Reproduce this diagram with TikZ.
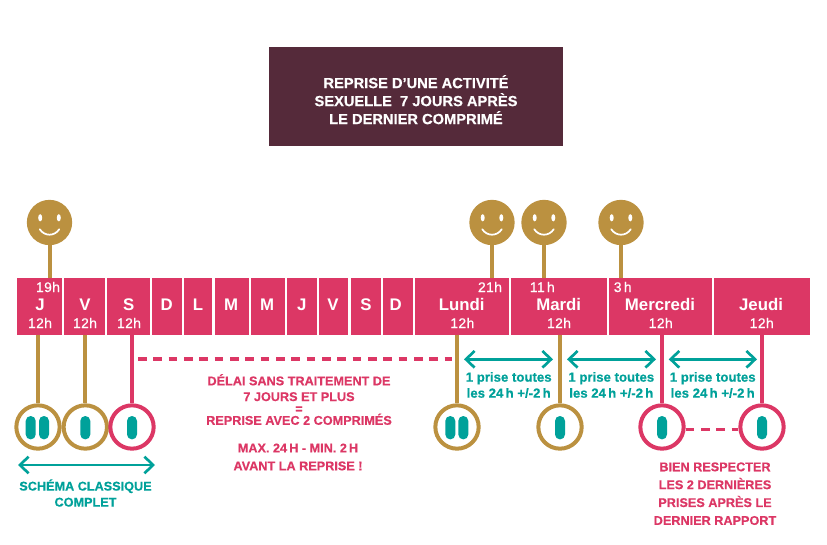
\documentclass[tikz,border=0pt]{standalone}
\usepackage{fontspec}
\setmainfont{Liberation Sans}
\usetikzlibrary{arrows.meta}
\definecolor{pinkc}{HTML}{DC3765}
\definecolor{gold}{HTML}{BB9140}
\definecolor{teal}{HTML}{00A19A}
\definecolor{plum}{HTML}{552A3A}
\tikzset{x=0.75pt,y=-0.75pt,
 wt/.style={text=white,font=\fontsize{12.6}{12}\selectfont\bfseries,inner sep=0,anchor=base},
 ht/.style={text=white,font=\fontsize{10.4}{10}\selectfont\addfontfeatures{FakeBold=0.6,LetterSpace=3},inner sep=0,anchor=base},
 goldl/.style={draw=gold,line width=3pt},
 pinkl/.style={draw=pinkc,line width=3pt},
 dashl/.style={draw=pinkc,line width=2.4pt,dash pattern=on 6.5pt off 5pt},
 tarrow/.style={draw=teal,line width=2pt,{Straight Barb[length=6.5pt,width=12.5pt,line width=2pt]}-{Straight Barb[length=6.5pt,width=12.5pt,line width=2pt]}},
 circ/.style={circle,minimum size=32.5pt,inner sep=0,fill=white,line width=3pt},
 ttxt/.style={text=teal,font=\fontsize{9.5}{12}\selectfont\bfseries\addfontfeatures{FakeBold=0.4},align=center,inner sep=0},
 tsm/.style={text=teal,font=\fontsize{9.9}{12}\selectfont\bfseries\addfontfeatures{FakeBold=0.4},align=center,inner sep=0},
 ptxt/.style={text=pinkc,font=\fontsize{9.5}{13.4}\selectfont\bfseries\addfontfeatures{FakeBold=0.4},align=center,inner sep=0},
}
\newcommand{\daybx}[3]{\fill[pinkc] (#2,277.7) rectangle (#3,334.7); \node[inner sep=0] (#1) at ({(#2+#3)/2},306) {};}
\newcommand{\smiley}[3]{%
 \node[circle,fill=gold,minimum size=34pt,inner sep=0] (#1) at (#2,#3) {};
 \fill[white] (#2-9.3,#3-4.7) ellipse (1.5pt and 2.7pt);
 \fill[white] (#2+9.3,#3-4.7) ellipse (1.5pt and 2.7pt);
 \draw[white,line width=1.3pt,line cap=round] (#2-9.7,#3+6.8) .. controls (#2-5,#3+14) and (#2+5,#3+14) .. (#2+9.7,#3+6.8);
}
\newcommand{\pillA}[2]{\fill[teal,rounded corners=3.7pt] (#1-5,#2-11.7) rectangle (#1+5,#2+11.7);}
\begin{document}
\begin{tikzpicture}
\useasboundingbox (0,0) rectangle (827,545);
\fill[white] (0,0) rectangle (827,545);
% title
\node[fill=plum,minimum width=220pt,minimum height=74.5pt,inner sep=0] (title) at (416,96.3) {};
\node[text=white,align=center,inner sep=0,font=\fontsize{11}{13.5}\selectfont\bfseries\addfontfeatures{FakeBold=0.4}] (titletext) at (416,99.7) {REPRISE D’UNE ACTIVITÉ\\SEXUELLE\ \ 7 JOURS APRÈS\\LE DERNIER COMPRIMÉ};
% smileys
\smiley{s1}{49.5}{222.5}
\smiley{s2}{492}{222.5}
\smiley{s3}{544}{222.5}
\smiley{s4}{621}{222.5}
% circles
\node[circ,draw=gold] (c1) at (38,427) {};
\node[circ,draw=gold] (c2) at (85.3,427) {};
\node[circ,draw=pinkc] (c3) at (132,427) {};
\node[circ,draw=gold] (c4) at (457,427) {};
\node[circ,draw=gold] (c5) at (560,427) {};
\node[circ,draw=pinkc] (c6) at (662,427) {};
\node[circ,draw=pinkc] (c7) at (762,427) {};
% boxes
\daybx{dJ}{17.3}{62}
\daybx{dV}{64}{105.3}
\daybx{dS}{107.3}{150.3}
\daybx{dD}{152.3}{182.3}
\daybx{dL}{184.3}{212.3}
\daybx{dM}{214.7}{248.7}
\daybx{dMb}{251}{285}
\daybx{dJb}{287}{316.7}
\daybx{dVb}{319}{348.3}
\daybx{dSb}{350.7}{381}
\daybx{dDb}{383.3}{412.7}
\daybx{dLu}{415}{508.7}
\daybx{dMa}{511}{607}
\daybx{dMe}{609.3}{712}
\daybx{dJe}{714}{810}
% connectors from smileys
\coordinate (a1) at (49.5,278);
\coordinate (a2) at (492,278);
\coordinate (a3) at (544,278);
\coordinate (a4) at (621,278);
\draw[goldl] (s1) -- (a1);
\draw[goldl] (s2) -- (a2);
\draw[goldl] (s3) -- (a3);
\draw[goldl] (s4) -- (a4);
% connectors below
\coordinate (b1) at (38,334.7); \coordinate (b2) at (85.3,334.7); \coordinate (b3) at (132,334.7);
\coordinate (b4) at (457,334.7); \coordinate (b5) at (560,334.7); \coordinate (b6) at (662,334.7); \coordinate (b7) at (762,334.7);
\draw[goldl] (b1) -- (c1);
\draw[goldl] (b2) -- (c2);
\draw[pinkl] (b3) -- (c3);
\draw[goldl] (b4) -- (c4);
\draw[goldl] (b5) -- (c5);
\draw[pinkl] (b6) -- (c6);
\draw[pinkl] (b7) -- (c7);
% day labels
\node[wt] at (40,310) {J};
\node[wt] at (85,310) {V};
\node[wt] at (128.7,310) {S};
\node[wt] at (166.7,310) {D};
\node[wt] at (198,310) {L};
\node[wt] at (231,310) {M};
\node[wt] at (267,310) {M};
\node[wt] at (301.7,310) {J};
\node[wt] at (333,310) {V};
\node[wt] at (366,310) {S};
\node[wt] at (395.7,310) {D};
\node[wt] at (461.7,310) {Lundi};
\node[wt] at (558.7,310) {Mardi};
\node[wt] at (660,310) {Mercredi};
\node[wt] at (761,310) {Jeudi};
\node[ht] at (40,328) {12h};
\node[ht] at (85,328) {12h};
\node[ht] at (129,328) {12h};
\node[ht] at (462.3,328) {12h};
\node[ht] at (559,328) {12h};
\node[ht] at (660.7,328) {12h};
\node[ht] at (761.7,328) {12h};
\node[ht] at (48,292) {19h};
\node[ht] at (490,292) {21h};
\node[ht] at (542.3,292) {11\,h};
\node[ht] at (622.7,292) {3\,h};
% pills
\pillA{30.7}{427.7}\pillA{44}{427.7}
\pillA{85.3}{427.7}
\pillA{132}{427.7}
\pillA{450.3}{427.7}\pillA{463.3}{427.7}
\pillA{560}{427.7}
\pillA{662}{427.7}
\pillA{762}{427.7}
% dashes
\coordinate (d1) at (138,359); \coordinate (d2) at (452,359);
\draw[dashl] (d1) -- (d2);
\draw[dashl] ([yshift=-1.7pt]c6.east) -- ([yshift=-1.7pt]c7.west);
% arrows
\coordinate (e1) at (18,465); \coordinate (e2) at (155,465);
\draw[tarrow] (e1) -- (e2);
\coordinate (f1) at (464,359.3); \coordinate (f2) at (553,359.3);
\draw[tarrow] (f1) -- (f2);
\coordinate (g1) at (567,359.3); \coordinate (g2) at (656,359.3);
\draw[tarrow] (g1) -- (g2);
\coordinate (h1) at (668.7,359.3); \coordinate (h2) at (757,359.3);
\draw[tarrow] (h1) -- (h2);
% text
\node[ttxt] (t1) at (85.5,493) {SCHÉMA CLASSIQUE\\COMPLET};
\node[tsm] (t2) at (508.7,385) {1 prise toutes\\les 24\,h +/-2\,h};
\node[tsm] (t3) at (611.3,385) {1 prise toutes\\les 24\,h +/-2\,h};
\node[tsm] (t4) at (712.7,385) {1 prise toutes\\les 24\,h +/-2\,h};
\node[ptxt] (t5) at (715,493.7) {BIEN RESPECTER\\LES 2 DERNIÈRES\\PRISES APRÈS LE\\DERNIER RAPPORT};
\node[ptxt,font=\fontsize{9.5}{11.8}\selectfont\bfseries\addfontfeatures{FakeBold=0.4}] (t6) at (299,399.5) {DÉLAI SANS TRAITEMENT DE\\7 JOURS ET PLUS\\[-2.8pt]=\\[-3pt]REPRISE AVEC 2 COMPRIMÉS};
\node[ptxt] (t7) at (298,457) {MAX. 24\,H - MIN. 2\,H\\AVANT LA REPRISE !};
\end{tikzpicture}
\end{document}
